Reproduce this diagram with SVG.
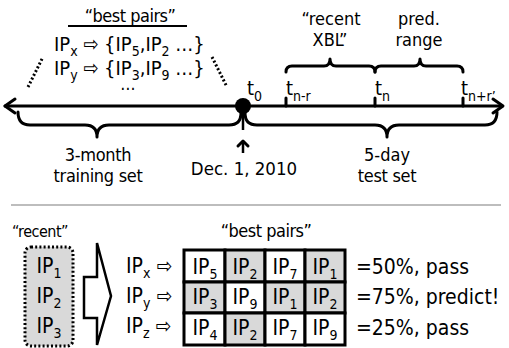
<svg xmlns="http://www.w3.org/2000/svg" width="509" height="348" viewBox="0 0 509 348">
<style>
text{font-family:"DejaVu Sans Condensed","DejaVu Sans","Liberation Sans",sans-serif;font-stretch:condensed;font-size:20px;fill:#000}
.sub{font-size:14px}
.sm{font-size:18px}
.lab{font-size:18px}
.big{font-size:21px}
.ln{stroke:#000;stroke-width:3;fill:none;stroke-linecap:round;stroke-linejoin:round}
.dot{stroke:#000;stroke-width:3;fill:none;stroke-dasharray:2 2.2}
.cw{fill:#fff;stroke:#000;stroke-width:3}
.cg{fill:#d9d9d9;stroke:#000;stroke-width:3}
</style>
<rect width="509" height="348" fill="#fff"/>

<g id="connectors">
  <line class="ln" x1="5" y1="106" x2="502" y2="106"/>
  <polyline class="ln" points="15,99 5,106 15,113"/>
  <polyline class="ln" points="493,99 503,106 493,113"/>
  <line class="ln" x1="286" y1="98" x2="286" y2="106"/>
  <line class="ln" x1="375" y1="98" x2="375" y2="106"/>
  <line class="ln" x1="463" y1="98" x2="463" y2="106"/>
  <line x1="243" y1="106" x2="243" y2="130" stroke="#000" stroke-width="2.5"/>
  <line x1="243" y1="141" x2="243" y2="153" stroke="#000" stroke-width="2.5"/>
  <polyline class="ln" points="238,146 243,141 248,146"/>
  <line class="dot" x1="28" y1="87" x2="43" y2="57"/>
  <line class="dot" x1="212" y1="57" x2="227" y2="87"/>
  <line x1="11" y1="205" x2="501" y2="205" stroke="#bdbdbd" stroke-width="2"/>
</g>

<g id="braces">
  <path class="ln" d="M286,72 Q286,66 292,66 L324,66 Q330,66 330,59 Q330,66 336,66 L369,66 Q375,66 375,72"/>
  <path class="ln" d="M375,72 Q375,66 381,66 L414,66 Q420,66 420,59 Q420,66 426,66 L457,66 Q463,66 463,72"/>
  <path class="ln" d="M18,112 Q18,125 30,125 L85,125 Q97,125 97,137 Q97,125 109,125 L229,125 Q241,125 241,113"/>
  <path class="ln" d="M245,113 Q245,125 257,125 L375,125 Q387,125 387,137 Q387,125 399,125 L485,125 Q497,125 497,112"/>
</g>

<g id="timeline-dot">
  <circle cx="243" cy="106" r="8" fill="#000"/>
  <text x="247" y="95">t<tspan class="sub" dy="6">0</tspan></text>
</g>

<g id="tick-labels">
  <text x="286" y="95">t<tspan class="sub" dy="6">n-r</tspan></text>
  <text x="375" y="95">t<tspan class="sub" dy="6">n</tspan></text>
  <text x="461" y="95">t<tspan class="sub" dy="6">n+r’</tspan></text>
</g>

<g id="recent-xbl">
  <text x="331" y="25" text-anchor="middle" class="lab">“recent</text>
  <text x="330" y="46" text-anchor="middle" class="lab">XBL”</text>
</g>
<g id="pred-range">
  <text x="419" y="25" text-anchor="middle" class="lab">pred.</text>
  <text x="419" y="46" text-anchor="middle" class="lab">range</text>
</g>

<g id="best-pairs-top">
  <text x="130" y="22" text-anchor="middle" class="lab" letter-spacing="-0.5">“best pairs”</text>
  <line x1="68" y1="26" x2="187" y2="26" stroke="#000" stroke-width="2"/>
  <text x="54" y="51">IP<tspan class="sub" dy="5">x</tspan><tspan dy="-5"> ⇨ {IP</tspan><tspan class="sub" dy="5">5</tspan><tspan dy="-5">,IP</tspan><tspan class="sub" dy="5">2</tspan><tspan dy="-5"> …}</tspan></text>
  <text x="54" y="75">IP<tspan class="sub" dy="5">y</tspan><tspan dy="-5"> ⇨ {IP</tspan><tspan class="sub" dy="5">3</tspan><tspan dy="-5">,IP</tspan><tspan class="sub" dy="5">9</tspan><tspan dy="-5"> …}</tspan></text>
  <text x="128" y="90" text-anchor="middle" style="font-size:17px">…</text>
</g>

<g id="training">
  <text x="98" y="161" text-anchor="middle" class="lab" letter-spacing="-0.3">3-month</text>
  <text x="98" y="182" text-anchor="middle" class="lab" letter-spacing="-0.3">training set</text>
</g>
<g id="date">
  <text x="244" y="175" text-anchor="middle" style="font-size:18.5px">Dec. 1, 2010</text>
</g>
<g id="test">
  <text x="387" y="161" text-anchor="middle" class="lab">5-day</text>
  <text x="387" y="182" text-anchor="middle" class="lab" letter-spacing="-0.3">test set</text>
</g>

<g id="recent-box">
  <text x="40" y="237" text-anchor="middle" style="font-size:16px" letter-spacing="-0.5">“recent”</text>
  <rect x="25" y="247" width="48" height="99" rx="6" fill="#d9d9d9" stroke="#000" stroke-width="3" stroke-dasharray="2 2.2"/>
  <text x="49" y="273" text-anchor="middle" class="big">IP<tspan class="sub" dy="5">1</tspan></text>
  <text x="49" y="303" text-anchor="middle" class="big">IP<tspan class="sub" dy="5">2</tspan></text>
  <text x="49" y="333" text-anchor="middle" class="big">IP<tspan class="sub" dy="5">3</tspan></text>
</g>

<g id="big-arrow">
  <polygon points="84,277 97,277 97,243 111,296 97,345 97,318 84,318" fill="#fff" stroke="#000" stroke-width="2.5" stroke-linejoin="miter"/>
</g>

<g id="ip-labels">
  <text x="126" y="273" class="big">IP<tspan class="sub" dy="5">x</tspan><tspan dy="-5"> ⇨</tspan></text>
  <text x="126" y="303" class="big">IP<tspan class="sub" dy="5">y</tspan><tspan dy="-5"> ⇨</tspan></text>
  <text x="126" y="333" class="big">IP<tspan class="sub" dy="5">z</tspan><tspan dy="-5"> ⇨</tspan></text>
</g>

<g id="best-pairs-table">
  <text x="266" y="237" text-anchor="middle" class="sm" letter-spacing="-0.5">“best pairs”</text>
  <rect class="cw" x="184" y="250" width="41" height="32"/>
  <rect class="cg" x="225" y="250" width="40" height="32"/>
  <rect class="cw" x="265" y="250" width="40" height="32"/>
  <rect class="cg" x="305" y="250" width="40" height="32"/>
  <rect class="cg" x="184" y="282" width="41" height="31"/>
  <rect class="cw" x="225" y="282" width="40" height="31"/>
  <rect class="cg" x="265" y="282" width="40" height="31"/>
  <rect class="cg" x="305" y="282" width="40" height="31"/>
  <rect class="cw" x="184" y="313" width="41" height="32"/>
  <rect class="cg" x="225" y="313" width="40" height="32"/>
  <rect class="cw" x="265" y="313" width="40" height="32"/>
  <rect class="cw" x="305" y="313" width="40" height="32"/>
  <text x="205" y="274" text-anchor="middle" class="big">IP<tspan class="sub" dy="5">5</tspan></text>
  <text x="245" y="274" text-anchor="middle" class="big">IP<tspan class="sub" dy="5">2</tspan></text>
  <text x="285" y="274" text-anchor="middle" class="big">IP<tspan class="sub" dy="5">7</tspan></text>
  <text x="325" y="274" text-anchor="middle" class="big">IP<tspan class="sub" dy="5">1</tspan></text>
  <text x="205" y="304" text-anchor="middle" class="big">IP<tspan class="sub" dy="5">3</tspan></text>
  <text x="245" y="304" text-anchor="middle" class="big">IP<tspan class="sub" dy="5">9</tspan></text>
  <text x="285" y="304" text-anchor="middle" class="big">IP<tspan class="sub" dy="5">1</tspan></text>
  <text x="325" y="304" text-anchor="middle" class="big">IP<tspan class="sub" dy="5">2</tspan></text>
  <text x="205" y="335" text-anchor="middle" class="big">IP<tspan class="sub" dy="5">4</tspan></text>
  <text x="245" y="335" text-anchor="middle" class="big">IP<tspan class="sub" dy="5">2</tspan></text>
  <text x="285" y="335" text-anchor="middle" class="big">IP<tspan class="sub" dy="5">7</tspan></text>
  <text x="325" y="335" text-anchor="middle" class="big">IP<tspan class="sub" dy="5">9</tspan></text>
</g>

<g id="results">
  <text x="356" y="274" class="big">=50%, pass</text>
  <text x="356" y="304" class="big">=75%, predict!</text>
  <text x="356" y="335" class="big">=25%, pass</text>
</g>
</svg>
